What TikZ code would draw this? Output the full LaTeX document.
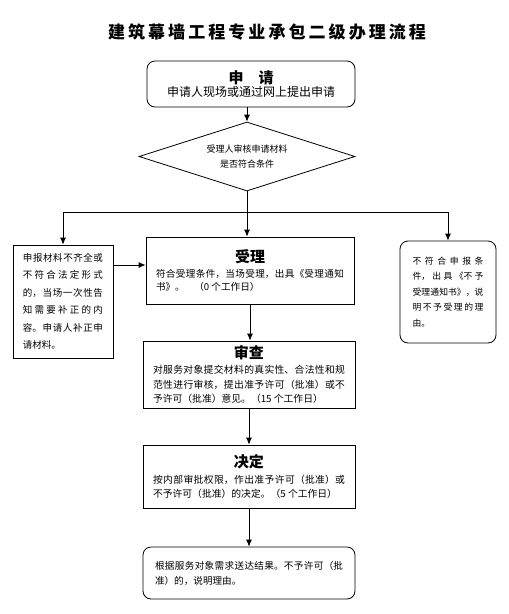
\documentclass[tikz,border=0pt]{standalone}
\usepackage{fontspec}
\setmainfont{Noto Sans CJK SC}
\usetikzlibrary{positioning,arrows.meta,shapes.geometric}
\XeTeXlinebreaklocale "zh"
\XeTeXlinebreakskip=0pt plus 1pt
\newcommand{\fs}[2]{\fontsize{#1}{#2}\selectfont}

\begin{document}
\begin{tikzpicture}[x=1pt,y=-1pt, line width=0.8pt,
box/.style={draw,rectangle,inner sep=0pt,align=justify},
rbox/.style={box,rounded corners=8pt},
arr/.style={-{Latex[length=7pt,width=6pt]}}]
\useasboundingbox (0,0) rectangle (509,614);
\node (title) at (267,32) {\fs{17}{20}\bfseries\addfontfeature{LetterSpace=18}建筑幕墙工程专业承包二级办理流程};
\node[rbox,align=center,minimum width=208pt,minimum height=46pt] (apply) at (251,84)
 {{\fs{15}{17}\bfseries 申\quad 请}\\[1pt]{\fs{12}{14}申请人现场或通过网上提出申请}};
\node[draw,diamond,aspect=3.1,minimum width=216pt,minimum height=69pt,inner sep=0pt,
 align=center,font={\fs{9}{15}}] (check) at (247,156.5) {受理人审核申请材料\\是否符合条件};
\node[box,minimum width=100pt,minimum height=113pt,text width=80pt,font={\fs{9.5}{17.5}}] (fix) at (63,301.5)
 {申报材料不齐全或\linebreak 不符合法定形式\linebreak 的，当场一次性告\linebreak 知需要补正的内\linebreak 容。申请人补正申\linebreak 请材料。};
\node[box,minimum width=208pt,minimum height=67pt,text width=188pt,font={\fs{9.6}{13.5}}] (accept) at (250,270.5)
 {\makebox[188pt]{\fs{15}{17}\bfseries 受理}\\[1pt]符合受理条件，当场受理，出具《受理通知\linebreak 书》。\hspace{1em}（0 个工作日）};
\node[rbox,minimum width=96pt,minimum height=102pt,text width=71pt,font={\fs{8.8}{15.5}}] (reject) at (448,292)
 {不符合申报条\linebreak 件，出具《不予\linebreak 受理通知书》，说\linebreak 明不予受理的理\linebreak 由。};
\node[box,minimum width=212pt,minimum height=67pt,text width=192pt,font={\fs{9.8}{14.5}}] (review) at (249,374.5)
 {\makebox[192pt]{\fs{15}{17}\bfseries 审查}\\[1pt]对服务对象提交材料的真实性、合法性和规\linebreak 范性进行审核，提出准予许可（批准）或不\linebreak 予许可（批准）意见。（15 个工作日）};
\node[box,minimum width=212pt,minimum height=63pt,text width=192pt,font={\fs{9.8}{14.5}}] (decide) at (249,476.5)
 {\makebox[192pt]{\fs{15}{17}\bfseries 决定}\\[1pt]按内部审批权限，作出准予许可（批准）或\linebreak 不予许可（批准）的决定。（5 个工作日）};
\node[rbox,minimum width=212pt,minimum height=52pt,text width=188pt,font={\fs{9.6}{15}}] (result) at (249,573)
 {根据服务对象需求送达结果。不予许可（批\linebreak 准）的，说明理由。};
\coordinate (split) at (247,212);
\draw[arr] (apply.south -| check.north) -- (check.north);
\draw (check.south) -- (split);
\draw[arr] (split) -| (fix.north);
\draw[arr] (split) -| (reject.north);
\draw[arr] (split) -- (split |- accept.north);
\draw[arr] ([yshift=5.5pt]accept.west -| fix.east) -- ([yshift=5.5pt]accept.west);
\draw[arr] (accept.south) -- (accept.south |- review.north);
\draw[arr] (review) -- (decide);
\draw[arr] (decide) -- (result);
\end{tikzpicture}
\end{document}
